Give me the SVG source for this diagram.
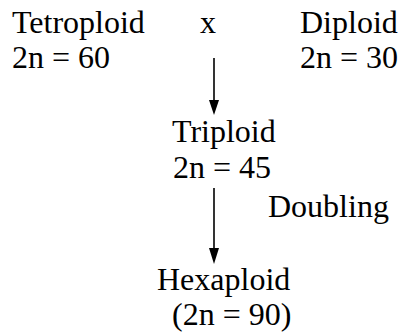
<svg xmlns="http://www.w3.org/2000/svg" width="401" height="333" viewBox="0 0 401 333">
<style>
.ln{stroke:#000;stroke-width:1.6;fill:none}
.hd{fill:#000}
</style>
<rect width="401" height="333" fill="#fff"/>
<g font-family="Liberation Serif" font-size="32" fill="#000">
<g id="tetroploid"><text x="12" y="33">Tetroploid</text><text x="12" y="68">2n = 60</text></g>
<g id="cross"><text x="200" y="33">x</text></g>
<g id="diploid"><text x="300" y="33">Diploid</text><text x="300" y="68">2n = 30</text></g>
<g id="triploid"><text x="172" y="142">Triploid</text><text x="173" y="178">2n = 45</text></g>
<g id="doubling"><text x="268" y="217">Doubling</text></g>
<g id="hexaploid"><text x="157" y="290">Hexaploid</text><text x="172" y="325">(2n = 90)</text></g>
</g>
<g id="connectors">
<line class="ln" x1="214" y1="58" x2="214" y2="102"/>
<polygon class="hd" points="209,100 219,100 214,115"/>
<line class="ln" x1="214" y1="188" x2="214" y2="250"/>
<polygon class="hd" points="209,248 219,248 214,264"/>
</g>
</svg>
